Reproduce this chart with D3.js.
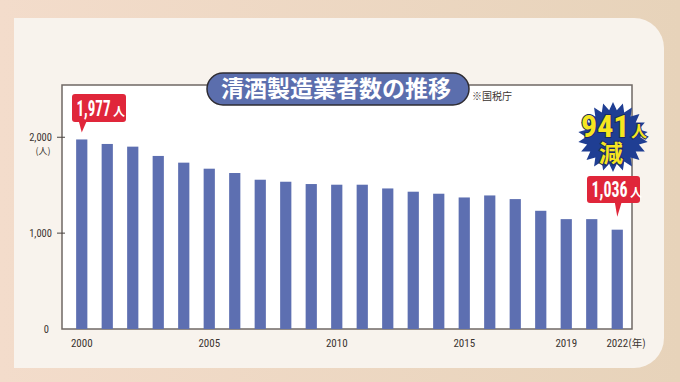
<!DOCTYPE html>
<html>
<head>
<meta charset="utf-8">
<script src="https://cdn.jsdelivr.net/npm/d3@7"></script>
<style>
  html, body { margin: 0; padding: 0; background: #ecdcc7; }
  svg { display: block; }
</style>
</head>
<body>
<div id="chart"></div>
<script>
// ### DATA ###
var years = ["2000", "2001", "2002", "2003", "2004", "2005", "2006", "2007", "2008", "2009",
  "2010", "2011", "2012", "2013", "2014", "2015", "2016", "2017", "2018", "2019", "2021", "2022"];
var counts = [1977, 1930, 1902, 1805, 1735, 1672, 1627, 1557, 1536, 1512,
  1505, 1505, 1466, 1432, 1411, 1372, 1393, 1355, 1233, 1146, 1146, 1036];
var yTicks = [0, 1000, 2000];
var xTickLabels = ["2000", "2005", "2010", "2015", "2019", "2022"];
var title = "清酒製造業者数の推移";
var source = "※国税庁";
var diffLabel = "941";

var width = 680;
var height = 382;
var numFont = "'Liberation Sans Narrow', 'Arial Narrow', 'Roboto Condensed', sans-serif";
var jpFont = "'Noto Sans CJK JP', 'Noto Sans', sans-serif";

var svg = d3.select("#chart").append("svg")
  .attr("width", width)
  .attr("height", height);

// squeeze a text horizontally to a given width (px,py = left baseline)
function fitText(sel, px, py, target) {
  var w = sel.node().getComputedTextLength();
  sel.attr("x", 0).attr("y", 0)
    .attr("transform", "translate(" + px + "," + py + ") scale(" + (target / w) + ",1)");
}

// background gradient
var defs = svg.append("defs");
var grad = defs.append("linearGradient").attr("id", "bg").attr("x1", 0).attr("x2", 1).attr("y1", 0).attr("y2", 0);
grad.append("stop").attr("offset", "0%").attr("stop-color", "#f3dccb");
grad.append("stop").attr("offset", "100%").attr("stop-color", "#e7d3ba");
svg.append("rect").attr("width", width).attr("height", height).attr("fill", "url(#bg)");

// cream panel with rounded right corners
var pL = 14, pT = 18, pR = 664, pB = 368, rad = 30;
svg.append("path")
  .attr("d", "M" + pL + "," + pT + "H" + (pR - rad) + "A" + rad + "," + rad + " 0 0 1 " + pR + "," + (pT + rad) +
    "V" + (pB - rad) + "A" + rad + "," + rad + " 0 0 1 " + (pR - rad) + "," + pB + "H" + pL + "Z")
  .attr("fill", "#f8f3ed");

// plot area
var plot = { left: 62, top: 85, right: 632, bottom: 329 };

var x = d3.scaleBand()
  .domain(years)
  .range([69, 630])
  .paddingInner(0.56)
  .paddingOuter(0.28);

var y = d3.scaleLinear()
  .domain([0, 2545])
  .range([plot.bottom, plot.top]);

svg.append("rect")
  .attr("x", plot.left).attr("y", plot.top)
  .attr("width", plot.right - plot.left).attr("height", plot.bottom - plot.top)
  .attr("fill", "#ffffff")
  .attr("stroke", "#6f6864")
  .attr("stroke-width", 1.5);

// bars
svg.append("g").selectAll("rect")
  .data(counts)
  .enter()
  .append("rect")
  .attr("x", function (d, i) { return x(years[i]); })
  .attr("width", x.bandwidth())
  .attr("y", function (d) { return y(d); })
  .attr("height", function (d) { return y(0) - y(d); })
  .attr("fill", "#5d6fb1");

// y axis ticks
var yg = svg.append("g");
yTicks.forEach(function (t) {
  if (t > 0) {
    yg.append("line")
      .attr("x1", plot.left - 5).attr("x2", plot.left + 3)
      .attr("y1", y(t)).attr("y2", y(t))
      .attr("stroke", "#4a4440").attr("stroke-width", 1);
  }
  yg.append("text")
    .attr("x", t === 0 ? 49 : 52)
    .attr("y", y(t) + (t === 0 ? 4 : 3.5))
    .attr("text-anchor", "end")
    .attr("font-family", numFont)
    .attr("font-size", 10.5)
    .attr("fill", "#3a3330")
    .text(d3.format(",")(t));
});
yg.append("text")
  .attr("x", 43).attr("y", y(2000) + 17)
  .attr("text-anchor", "middle")
  .attr("font-family", jpFont)
  .attr("font-size", 9)
  .attr("fill", "#3a3330")
  .text("(人)");

// x labels
var xg = svg.append("g");
xTickLabels.forEach(function (lab) {
  var cx = x(lab) + x.bandwidth() / 2;
  xg.append("text")
    .attr("x", cx).attr("y", 347)
    .attr("text-anchor", "middle")
    .attr("font-family", numFont)
    .attr("font-size", 11)
    .attr("fill", "#3a3330")
    .text(lab);
});
var lastX = x(years[years.length - 1]) + x.bandwidth() / 2;
xg.append("text")
  .attr("x", lastX + 11).attr("y", 347)
  .attr("font-family", jpFont)
  .attr("font-size", 10.5)
  .attr("fill", "#3a3330")
  .text("(年)");

// title pill
var tg = svg.append("g");
tg.append("rect")
  .attr("x", 207).attr("y", 73).attr("width", 262).attr("height", 32)
  .attr("rx", 16)
  .attr("fill", "#5b6ead")
  .attr("stroke", "#2e2c33").attr("stroke-width", 1.5);
tg.append("text")
  .attr("x", 336).attr("y", 97)
  .attr("text-anchor", "middle")
  .attr("font-family", jpFont)
  .attr("font-weight", 700)
  .attr("font-size", 23)
  .attr("fill", "#ffffff")
  .text(title);
tg.append("text")
  .attr("x", 472).attr("y", 100)
  .attr("font-family", jpFont)
  .attr("font-size", 10)
  .attr("fill", "#3a3330")
  .text(source);

// red callouts
function callout(idx, box, tipGap, stemHalf, numWidth) {
  var v = counts[idx];
  var cx = x(years[idx]) + x.bandwidth() / 2;
  var tipY = y(v) - tipGap;
  var g = svg.append("g");
  g.append("rect")
    .attr("x", box.x).attr("y", box.y).attr("width", box.w).attr("height", box.h)
    .attr("rx", 3)
    .attr("fill", "#e0263a");
  g.append("path")
    .attr("d", "M" + (cx - stemHalf) + "," + (box.y + box.h - 1) + "L" + cx + "," + tipY +
      "L" + (cx + stemHalf + 2) + "," + (box.y + box.h - 1) + "Z")
    .attr("fill", "#e0263a");
  var num = g.append("text")
    .attr("font-family", numFont)
    .attr("font-weight", 700)
    .attr("font-size", 22)
    .attr("fill", "#ffffff")
    .text(d3.format(",")(v));
  fitText(num, box.x + 4.5, box.y + box.h - 6.5, numWidth);
  g.append("text")
    .attr("x", box.x + 7 + numWidth).attr("y", box.y + box.h - 6.5)
    .attr("font-family", jpFont)
    .attr("font-weight", 700)
    .attr("font-size", 12)
    .attr("fill", "#ffffff")
    .text("人");
}
callout(0, { x: 72, y: 94, w: 54, h: 28 }, 7, 3, 34);
callout(counts.length - 1, { x: 587, y: 176, w: 53, h: 27 }, 13, 2.5, 36);

// starburst "941人減"
var bx = 613, by = 137;
var spikes = 22;
var pts = d3.range(spikes * 2).map(function (i) {
  var r = i % 2 === 0 ? 35 : 27;
  return [i * Math.PI / spikes, r];
});
svg.append("path")
  .attr("transform", "translate(" + bx + "," + by + ")")
  .attr("d", d3.lineRadial().curve(d3.curveLinearClosed)(pts))
  .attr("fill", "#1f3e93");
var burstText = svg.append("text")
  .attr("font-weight", 700)
  .attr("fill", "#f6e51f")
  .attr("stroke", "#1a2a66")
  .attr("stroke-width", 2)
  .attr("paint-order", "stroke");
burstText.append("tspan")
  .attr("x", 581).attr("y", 137)
  .attr("font-family", numFont)
  .attr("font-size", 32)
  .text(diffLabel);
burstText.append("tspan")
  .attr("x", 631).attr("y", 137)
  .attr("font-family", jpFont)
  .attr("font-size", 16)
  .text("人");
burstText.append("tspan")
  .attr("x", 599).attr("y", 162)
  .attr("font-family", jpFont)
  .attr("font-size", 24)
  .text("減");
</script>
</body>
</html>
